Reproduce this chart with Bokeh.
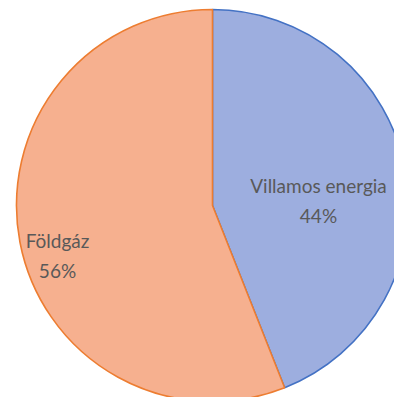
import math
from bokeh.plotting import figure
from bokeh.models import ColumnDataSource
from bokeh.core.properties import value
from bokeh.embed import file_html
from bokeh.resources import INLINE

categories = ["Villamos energia", "Földgáz"]
shares = [44, 56]
fill_colors = ["#9DAEDF", "#F6B08F"]
line_colors = ["#4472C4", "#ED7D31"]

total = sum(shares)
starts, ends = [], []
acc = 0.0
for s in shares:
    a0 = math.pi / 2 - 2 * math.pi * acc / total
    acc += s
    a1 = math.pi / 2 - 2 * math.pi * acc / total
    starts.append(a1)
    ends.append(a0)

R = 196
p = figure(width=394, height=397, x_range=(-212, 182), y_range=(-192, 205),
           output_backend="svg", toolbar_location=None, min_border=0)
p.axis.visible = False
p.grid.visible = False
p.outline_line_color = None
p.background_fill_color = "white"
p.border_fill_color = "white"

src = ColumnDataSource(dict(start=starts, end=ends, fill=fill_colors, line=line_colors))
p.wedge(x=0, y=0, radius=R, start_angle="start", end_angle="end", direction="anticlock",
        fill_color="fill", line_color="line", line_width=1.6, source=src)

label_x = [106, -155]
label_y = [5, -50]
labels = [f"{c}\n{s}%" for c, s in zip(categories, shares)]
lsrc = ColumnDataSource(dict(x=label_x, y=label_y, t=labels))
p.text(x="x", y="y", text="t", source=lsrc, text_align="center", text_baseline="middle",
       text_font=value("Lato"), text_font_size="19px", text_color="#595959",
       text_line_height=1.3)

open("out.html", "w").write(file_html(p, INLINE))
